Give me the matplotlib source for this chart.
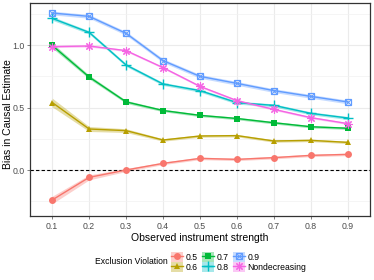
import matplotlib
matplotlib.use("Agg")
import matplotlib.pyplot as plt
from matplotlib.lines import Line2D
from matplotlib.patches import Patch
import numpy as np

plt.rcParams['font.family'] = ['Liberation Sans', 'DejaVu Sans']

strength = [0.1, 0.2, 0.3, 0.4, 0.5, 0.6, 0.7, 0.8, 0.9]
tick_labels = ["0.1", "0.2", "0.3", "0.4", "0.5", "0.6", "0.7", "0.8", "0.9"]

series_names = ["0.5", "0.6", "0.7", "0.8", "0.9", "Nondecreasing"]
bias_05 = [-0.24, -0.059, 0.0, 0.053, 0.093, 0.085, 0.099, 0.117, 0.125]
bias_06 = [0.54, 0.328, 0.315, 0.24, 0.272, 0.275, 0.232, 0.237, 0.221]
bias_07 = [0.997, 0.744, 0.545, 0.476, 0.437, 0.412, 0.378, 0.346, 0.334]
bias_08 = [1.213, 1.101, 0.84, 0.688, 0.635, 0.539, 0.517, 0.453, 0.416]
bias_09 = [1.256, 1.229, 1.093, 0.875, 0.749, 0.693, 0.635, 0.589, 0.544]
bias_nd = [0.987, 0.992, 0.955, 0.819, 0.669, 0.555, 0.485, 0.419, 0.371]

err_05 = [0.03, 0.02, 0.012, 0.01, 0.01, 0.01, 0.01, 0.01, 0.01]
err_06 = [0.035, 0.02, 0.015, 0.01, 0.01, 0.01, 0.01, 0.01, 0.01]
err_07 = [0.02, 0.015, 0.012, 0.01, 0.01, 0.01, 0.01, 0.01, 0.01]
err_08 = [0.015, 0.013, 0.012, 0.012, 0.012, 0.012, 0.012, 0.012, 0.012]
err_09 = [0.015, 0.015, 0.015, 0.015, 0.015, 0.015, 0.015, 0.015, 0.015]
err_nd = [0.008, 0.008, 0.008, 0.008, 0.008, 0.008, 0.008, 0.008, 0.008]

all_bias = [bias_05, bias_06, bias_07, bias_08, bias_09, bias_nd]
all_err = [err_05, err_06, err_07, err_08, err_09, err_nd]
colors = ["#F8766D", "#B79F00", "#00BA38", "#00BFC4", "#619CFF", "#F564E3"]
markers = ["o", "^", "s", "+", "sx", "ast"]

fig = plt.figure(figsize=(3.74, 2.80), dpi=100)
ax = fig.add_axes([30/374, 1-216/280, 340/374, 213/280])

x = np.array(strength)
handles = []
for name, b, e, c, m in zip(series_names, all_bias, all_err, colors, markers):
    b = np.array(b); e = np.array(e)
    ax.fill_between(x, b - e, b + e, color=c, alpha=0.35, lw=0, zorder=2)
    patch = Patch(facecolor=c, alpha=0.35, lw=0)
    if m == "sx":
        ax.plot(x, b, color=c, lw=1.0, zorder=3)
        ax.plot(x, b, ls='none', marker='s', mfc='none', mec=c, ms=5, mew=0.9, zorder=4)
        ax.plot(x, b, ls='none', marker='x', color=c, ms=4, mew=0.7, zorder=4)
        mk = Line2D([0], [0], color=c, lw=1.0, marker='s', mfc='none', mec=c, ms=5, mew=0.9)
        mk2 = Line2D([0], [0], ls='none', marker='x', color=c, ms=4, mew=0.7)
        handles.append((patch, mk, mk2))
    elif m == "+":
        ax.plot(x, b, color=c, lw=1.0, marker='+', ms=7, mew=1.0, zorder=3)
        handles.append((patch, Line2D([0], [0], color=c, lw=1.0, marker='+', ms=7, mew=1.0)))
    elif m == "ast":
        ax.plot(x, b, color=c, lw=1.0, zorder=3)
        ax.plot(x, b, ls='none', marker=(4, 2, 0), color=c, ms=6, mew=0.8, zorder=4)
        ax.plot(x, b, ls='none', marker=(4, 2, 45), color=c, ms=6, mew=0.8, zorder=4)
        h1 = Line2D([0], [0], color=c, lw=1.0, marker=(4, 2, 0), ms=6, mew=0.8)
        h2 = Line2D([0], [0], ls='none', color=c, marker=(4, 2, 45), ms=6, mew=0.8)
        handles.append((patch, h1, h2))
    else:
        ax.plot(x, b, color=c, lw=1.0, marker=m, ms=5, mew=0, zorder=3)
        handles.append((patch, Line2D([0], [0], color=c, lw=1.0, marker=m, ms=5, mew=0)))

ax.axhline(0, color='black', lw=0.8, ls=(0, (3, 2)), zorder=2.5)

ax.set_xlim(0.04, 0.96)
ax.set_ylim(-0.368, 1.336)
ax.set_xticks(strength)
ax.set_xticklabels(tick_labels)
ax.set_yticks([0.0, 0.5, 1.0])
ax.set_yticklabels(["0.0", "0.5", "1.0"])
ax.set_yticks([-0.25, 0.25, 0.75, 1.25], minor=True)
ax.grid(True, which='major', color='#EBEBEB', lw=0.8, zorder=0)
ax.grid(True, which='minor', axis='y', color='#F2F2F2', lw=0.5, zorder=0)
ax.set_axisbelow(True)
ax.tick_params(axis='both', which='major', labelsize=6.3, colors='#4D4D4D', length=2.5, width=0.5, pad=1.5)
ax.tick_params(axis='y', which='minor', length=0)
for sp in ax.spines.values():
    sp.set_color('#333333')
    sp.set_linewidth(0.9)

ax.set_xlabel("Observed instrument strength", fontsize=7.5, labelpad=2)
ax.set_ylabel("Bias in Causal Estimate", fontsize=7.5)
ax.yaxis.set_label_coords(-17/340, 0.48)

fig.text(168/374, 1-262/280, "Exclusion Violation", fontsize=6.2, ha='right', va='center')
leg = fig.legend(handles, series_names, ncol=3, loc='center left',
                 bbox_to_anchor=(171/374, 1-262/280), frameon=False,
                 fontsize=6.2, handlelength=1.35, handleheight=1.4, handletextpad=0.35,
                 columnspacing=0.5, labelspacing=0.02, borderpad=0, borderaxespad=0)

fig.savefig("out.png", dpi=100)
